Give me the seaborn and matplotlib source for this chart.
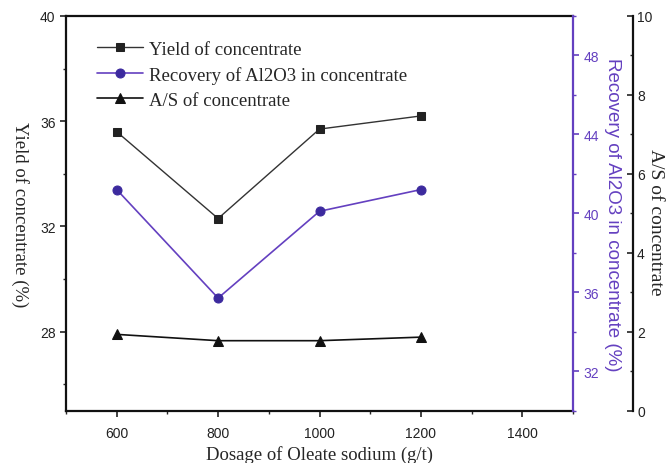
import numpy as np
import pandas as pd
import matplotlib
matplotlib.use("Agg")
import matplotlib.pyplot as plt
from matplotlib.ticker import MultipleLocator
import seaborn as sns

# ── data ───────────────────────────────────────────────────
dosage = [600, 800, 1000, 1200]
yield_conc = [35.6, 32.3, 35.7, 36.2]
recovery_al2o3 = [41.2, 35.7, 40.1, 41.2]
as_ratio = [1.93, 1.77, 1.77, 1.86]

PURPLE = "#6440C0"
PURPLE_DARK = "#3C2A9E"
SERIF = ["Liberation Serif", "DejaVu Serif"]
SANS = ["Liberation Sans", "DejaVu Sans"]

sns.set_style("ticks")
plt.rcParams["font.family"] = SANS

df = pd.DataFrame({"dosage": dosage, "yield": yield_conc,
                   "recovery": recovery_al2o3, "as": as_ratio})

fig = plt.figure(figsize=(6.68, 4.64), dpi=100)
ax = fig.add_axes([0.0988, 0.1131, 0.759, 0.8503])
ax2 = ax.twinx()
ax3 = ax.twinx()
ax3.spines["right"].set_position(("axes", 1.118))

# series
sns.lineplot(data=df, x="dosage", y="yield", ax=ax, color="#333333",
             marker="s", markersize=5.5, markerfacecolor="#222222",
             markeredgecolor="#222222", linewidth=1.0,
             label="Yield of concentrate", legend=False)
sns.lineplot(data=df, x="dosage", y="recovery", ax=ax2, color=PURPLE,
             marker="o", markersize=6.5, markerfacecolor=PURPLE_DARK,
             markeredgecolor=PURPLE_DARK, linewidth=1.2,
             label="Recovery of Al2O3 in concentrate", legend=False)
sns.lineplot(data=df, x="dosage", y="as", ax=ax3, color="#111111",
             marker="^", markersize=7, markerfacecolor="#111111",
             markeredgecolor="#111111", linewidth=1.2,
             label="A/S of concentrate", legend=False)

# left axis
ax.set_xlim(500, 1500)
ax.set_ylim(25, 40)
ax.xaxis.set_major_locator(MultipleLocator(200))
ax.xaxis.set_minor_locator(MultipleLocator(100))
ax.yaxis.set_minor_locator(MultipleLocator(2))
ax.set_yticks([28, 32, 36, 40])
ax.tick_params(axis="both", which="major", direction="out", length=4,
               width=1.2, labelsize=10, colors="#222222")
ax.tick_params(axis="x", which="major", pad=7)
ax.tick_params(axis="both", which="minor", direction="out", length=2.5, width=1.0)
for s in ["left", "bottom", "top"]:
    ax.spines[s].set_linewidth(1.6)
    ax.spines[s].set_color("#111111")
ax.spines["right"].set_visible(False)
ax.set_xlabel("Dosage of Oleate sodium (g/t)", fontsize=13.5, family=SERIF,
              va="center")
ax.xaxis.set_label_coords(0.5, -0.11)
ax.set_ylabel("Yield of concentrate (%)", fontsize=13.5, family=SERIF,
              rotation=270, ha="center", va="center")
ax.yaxis.set_label_coords(-0.091, 0.5)

# purple axis
ax2.set_ylim(30, 50)
ax2.set_yticks([32, 36, 40, 44, 48])
ax2.yaxis.set_minor_locator(MultipleLocator(2))
ax2.tick_params(axis="y", which="major", direction="out", length=4, width=1.2,
                labelsize=10, colors=PURPLE)
ax2.tick_params(axis="y", which="minor", direction="out", length=2.5, width=1.0,
                colors=PURPLE)
ax2.spines["right"].set_color(PURPLE)
ax2.spines["right"].set_linewidth(1.6)
for s in ["left", "top", "bottom"]:
    ax2.spines[s].set_visible(False)
ax2.set_ylabel("Recovery of Al2O3 in concentrate (%)", fontsize=13.5, color=PURPLE,
               rotation=270, ha="center", va="center")
ax2.yaxis.set_label_coords(1.077, 0.5)

# A/S axis
ax3.set_ylim(0, 10)
ax3.set_yticks([0, 2, 4, 6, 8, 10])
ax3.yaxis.set_minor_locator(MultipleLocator(1))
ax3.tick_params(axis="y", which="major", direction="in", length=4, width=1.2,
                labelsize=10, colors="#222222", pad=3)
ax3.tick_params(axis="y", which="minor", direction="in", length=2.5, width=1.0)
ax3.spines["right"].set_linewidth(1.6)
ax3.spines["right"].set_color("#111111")
for s in ["left", "top", "bottom"]:
    ax3.spines[s].set_visible(False)
ax3.set_ylabel("A/S of concentrate", fontsize=14, family=SERIF,
               rotation=270, ha="center", va="center")
ax3.yaxis.set_label_coords(1.163, 0.48)

# legend
handles = []
labels = []
for a in (ax, ax2, ax3):
    h, l = a.get_legend_handles_labels()
    handles += h
    labels += l
leg = ax.legend(handles, labels, loc="upper left", bbox_to_anchor=(0.027, 0.98),
                frameon=False, handlelength=2.5, handletextpad=0.3,
                labelspacing=0.42, prop={"family": SERIF, "size": 13.5})

fig.savefig("out.png", dpi=100)
